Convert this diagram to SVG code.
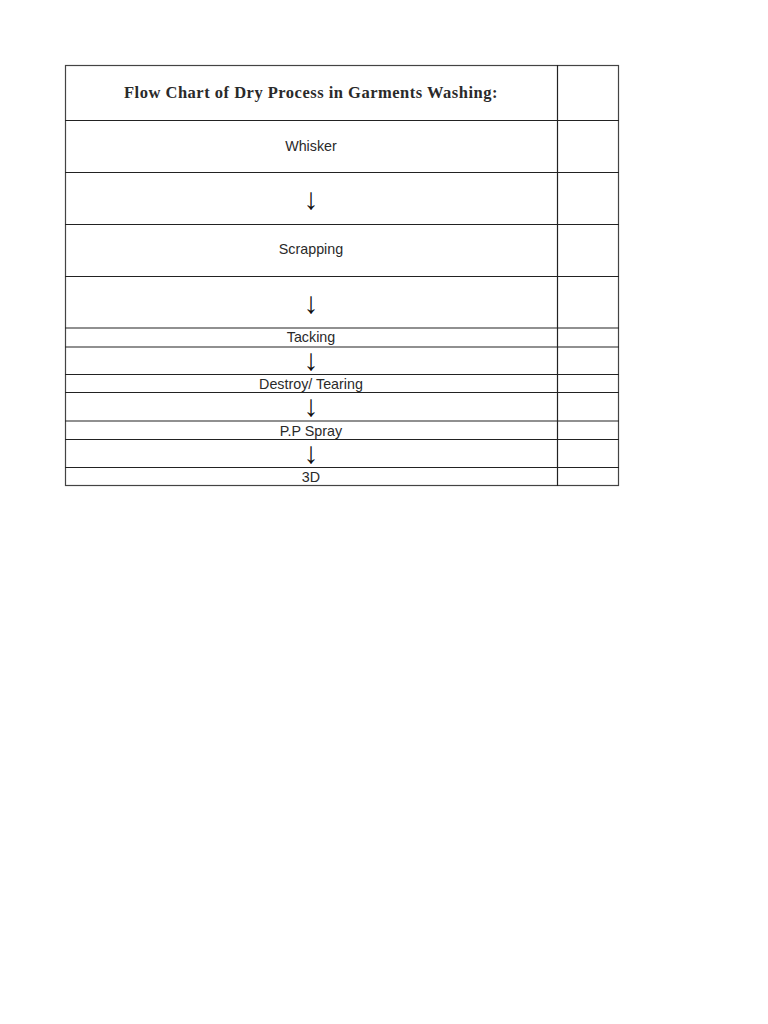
<svg xmlns="http://www.w3.org/2000/svg" width="768" height="1024" viewBox="0 0 768 1024">
<style>
.grid line{stroke:#222;stroke-width:1.2}
.t{font-family:"Liberation Sans",Arial,sans-serif;font-size:14.3px;fill:#2a2a2a;text-anchor:middle}
.title{font-family:"Liberation Serif","Times New Roman",serif;font-size:16.5px;font-weight:bold;letter-spacing:0.5px;fill:#2a2a2a;text-anchor:middle}
.a{font-family:"Liberation Sans",Arial,sans-serif;font-size:30px;fill:#111;text-anchor:middle}
</style>
<rect width="768" height="1024" fill="#fff"/>
<g class="grid" id="table">
<rect x="65.5" y="65.5" width="553" height="420" fill="none" stroke="#444" stroke-width="1.2"/>
<line x1="557.5" y1="65" x2="557.5" y2="486"/>
<line x1="65" y1="120.5" x2="619" y2="120.5"/>
<line x1="65" y1="172.5" x2="619" y2="172.5"/>
<line x1="65" y1="224.5" x2="619" y2="224.5"/>
<line x1="65" y1="276.5" x2="619" y2="276.5"/>
<line x1="65" y1="328" x2="619" y2="328"/>
<line x1="65" y1="347" x2="619" y2="347"/>
<line x1="65" y1="374.5" x2="619" y2="374.5"/>
<line x1="65" y1="392.5" x2="619" y2="392.5"/>
<line x1="65" y1="421" x2="619" y2="421"/>
<line x1="65" y1="439.5" x2="619" y2="439.5"/>
<line x1="65" y1="467.5" x2="619" y2="467.5"/>
</g>
<g id="title"><text class="title" x="311" y="98">Flow Chart of Dry Process in Garments Washing:</text></g>
<g id="whisker"><text class="t" x="311" y="151">Whisker</text></g>
<g id="scrapping"><text class="t" x="311" y="254">Scrapping</text></g>
<g id="tacking"><text class="t" x="311" y="342">Tacking</text></g>
<g id="destroy"><text class="t" x="311" y="389">Destroy/ Tearing</text></g>
<g id="ppspray"><text class="t" x="311" y="436">P.P Spray</text></g>
<g id="threed"><text class="t" x="311" y="482">3D</text></g>
<g id="connectors">
<text class="a" x="311" y="209">↓</text>
<text class="a" x="311" y="313">↓</text>
<text class="a" x="311" y="370">↓</text>
<text class="a" x="311" y="416">↓</text>
<text class="a" x="311" y="463">↓</text>
</g>
</svg>
